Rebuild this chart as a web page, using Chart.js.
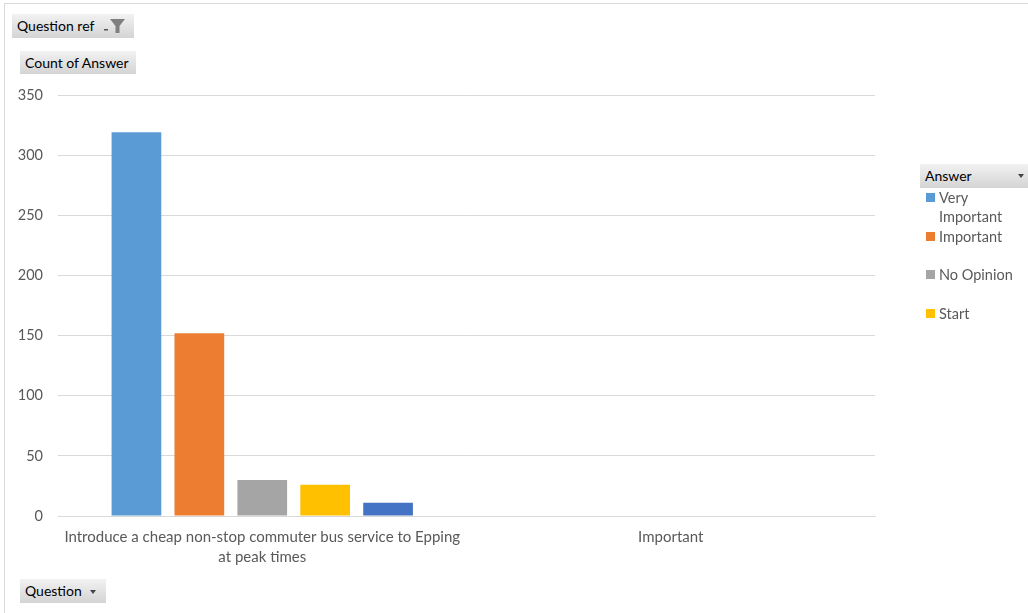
<!DOCTYPE html>
<html>
<head>
<meta charset="utf-8">
<script src="https://cdn.jsdelivr.net/npm/chart.js@4.4.1/dist/chart.umd.min.js"></script>
<style>
    html, body { margin: 0; padding: 0; background: #fff; }
    body { width: 1028px; height: 613px; position: relative; overflow: hidden; font-family: Lato, "Open Sans", sans-serif; }
    #frame { position: absolute; left: 4px; top: 3px; width: 1040px; height: 640px; border: 1px solid #d9d9d9; box-sizing: border-box; }
    #chart { position: absolute; left: 0; top: 0; }
    .btn {
        position: absolute; height: 24px; line-height: 24px; font-size: 14px; color: #000;
        background: linear-gradient(#f2f2f2, #d4d4d4); padding: 0 5px; box-sizing: border-box;
        white-space: nowrap;
    }
    .arrow { display: inline-block; width: 0; height: 0; border-left: 3.5px solid transparent; border-right: 3.5px solid transparent; border-top: 4px solid #444; vertical-align: middle; margin-left: 8px; }
    #legend { position: absolute; left: 926px; top: 188px; font-size: 14.5px; color: #595959; }
    .item { position: absolute; left: 0; width: 100px; line-height: 19px; }
    .swatch { position: absolute; left: 0; top: 5px; width: 9px; height: 9px; }
    .label { margin-left: 13px; }
</style>
</head>
<body>
<div id="frame"></div>
<canvas id="chart" width="1028" height="613"></canvas>

<div class="btn" style="left:12px;top:14px;width:122px;">Question ref
    <svg width="24" height="16" style="position:absolute;left:91px;top:4px;" viewBox="0 0 24 16">
        <rect x="1" y="11" width="4" height="1.5" fill="#555"/>
        <path d="M7 1 H22 L16.5 8 V15 H12.5 V8 Z" fill="#7f7f7f"/>
    </svg>
</div>
<div class="btn" style="left:20px;top:51px;width:116px;height:23px;line-height:23px;">Count of Answer</div>
<div class="btn" style="left:20px;top:579px;width:86px;">Question<span class="arrow"></span></div>
<div class="btn" style="left:920px;top:164px;width:110px;">Answer<span class="arrow" style="position:absolute;left:98px;top:10px;margin:0;"></span></div>
<div id="legend"></div>

<script>
    //分类（横轴）
    var categories = [
        ["Introduce a cheap non-stop commuter bus service to Epping", "at peak times"],
        "Important"
    ];

    //各系列名称与颜色
    var seriesNames = ["Very Important", "Important", "No Opinion", "Start", "Unimportant"];
    var seriesColors = ["#5b9bd5", "#ed7d31", "#a5a5a5", "#ffc000", "#4472c4"];

    //各系列数值（第二个分类没有数据）
    var veryImportant = [319, null];
    var important = [152, null];
    var noOpinion = [30, null];
    var start = [26, null];
    var unimportant = [11, null];

    //纵轴刻度
    var yTicks = [0, 50, 100, 150, 200, 250, 300, 350];

    var seriesValues = [veryImportant, important, noOpinion, start, unimportant];

    drawChart();
    drawLegend();

    /**
     * 画柱状图
     */
    function drawChart() {
        var ctx = document.getElementById("chart").getContext("2d");

        var datasets = seriesNames.map(function (name, i) {
            return {
                label: name,
                backgroundColor: seriesColors[i],
                data: seriesValues[i],
                categoryPercentage: 0.77,
                barPercentage: 0.79
            };
        });

        var chart = new Chart(ctx, {
            type: "bar",
            data: {
                labels: categories,
                datasets: datasets
            },
            options: {
                responsive: false,
                animation: false,
                layout: { padding: { left: 0, top: 95, right: 153, bottom: 0 } },
                plugins: {
                    legend: { display: false },
                    tooltip: { enabled: false }
                },
                scales: {
                    x: {
                        grid: { display: false, drawTicks: false },
                        border: { color: "#d9d9d9", width: 1 },
                        ticks: {
                            color: "#595959",
                            font: { family: "Lato", size: 15, lineHeight: 1.35 },
                            padding: 11,
                            maxRotation: 0,
                            autoSkip: false
                        },
                        afterFit: function (scale) { scale.height = 97; }
                    },
                    y: {
                        min: yTicks[0],
                        max: yTicks[yTicks.length - 1],
                        afterBuildTicks: function (scale) {
                            scale.ticks = yTicks.map(function (v) { return { value: v }; });
                        },
                        grid: { color: "#d9d9d9", lineWidth: 1, drawTicks: false },
                        border: { display: false },
                        ticks: {
                            color: "#595959",
                            font: { family: "Lato", size: 14.5 },
                            padding: 15
                        },
                        afterFit: function (scale) { scale.width = 58; }
                    }
                }
            }
        });
    }

    /**
     * 右侧图例（只显示前四项）
     */
    function drawLegend() {
        var tops = [0, 39, 77, 116];
        var legend = document.getElementById("legend");
        for (var i = 0; i < 4; i++) {
            var item = document.createElement("div");
            item.className = "item";
            item.style.top = tops[i] + "px";
            item.innerHTML = '<span class="swatch" style="background:' + seriesColors[i] + '"></span>' +
                '<div class="label">' + (i === 0 ? "Very<br>Important" : seriesNames[i]) + '</div>';
            legend.appendChild(item);
        }
    }
</script>
</body>
</html>
